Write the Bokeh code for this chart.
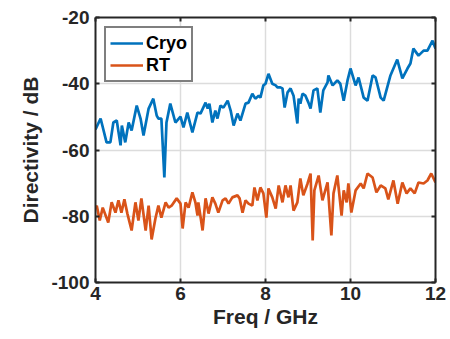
from bokeh.plotting import figure
from bokeh.models import Range1d, LinearAxis, FixedTicker, Legend, LegendItem
from bokeh.embed import file_html
from bokeh.resources import INLINE

cryo_f = [4.0, 4.12, 4.26, 4.35, 4.42, 4.5, 4.59, 4.62, 4.7, 4.78, 4.85, 4.97, 5.06, 5.13, 5.25, 5.36,
          5.44, 5.48, 5.55, 5.62, 5.67, 5.76, 5.88, 6.0, 6.07, 6.16, 6.28, 6.4, 6.47, 6.59, 6.64,
          6.68, 6.75, 6.82, 6.87, 6.94, 7.01, 7.11, 7.18, 7.25, 7.34, 7.41, 7.53, 7.6, 7.69, 7.76,
          7.84, 7.88, 7.95, 8.0, 8.07, 8.16, 8.24, 8.28, 8.35, 8.4, 8.45, 8.52, 8.59, 8.66, 8.75,
          8.78, 8.82, 8.87, 8.94, 9.01, 9.06, 9.13, 9.22, 9.29, 9.36, 9.46, 9.48, 9.58, 9.69, 9.76,
          9.84, 9.93, 10.0, 10.12, 10.19, 10.31, 10.4, 10.52, 10.59, 10.71, 10.78, 10.94, 11.1,
          11.22, 11.34, 11.41, 11.48, 11.6, 11.72, 11.81, 11.93, 12.0]
cryo_db = [-53.8, -50.5, -57.7, -57.7, -51.7, -51.1, -58.6, -52.6, -57.7, -51.7, -54.1, -46.6, -50.5,
           -55.6, -47.5, -44.5, -49.6, -50.5, -50.5, -68.3, -51.7, -46.0, -51.7, -49.9, -53.2, -48.7,
           -54.7, -48.7, -49.0, -45.7, -47.5, -46.0, -51.7, -48.1, -50.5, -46.6, -47.2, -45.1, -48.1,
           -52.6, -49.0, -51.1, -46.0, -45.7, -43.0, -44.5, -43.6, -44.2, -40.5, -40.0, -37.0, -40.0,
           -40.5, -41.1, -41.1, -41.4, -47.2, -42.6, -41.4, -43.6, -52.0, -44.5, -46.0, -43.0, -43.6,
           -45.7, -47.5, -42.0, -41.4, -48.7, -42.0, -39.6, -37.5, -40.5, -39.0, -40.0, -45.1, -39.0,
           -35.4, -40.5, -38.1, -44.2, -45.1, -37.5, -38.1, -44.2, -45.1, -37.5, -32.7, -38.4, -35.4,
           -33.9, -29.4, -31.5, -30.0, -30.0, -27.0, -29.4]

rt_f = [4.0, 4.03, 4.1, 4.17, 4.3, 4.38, 4.47, 4.54, 4.61, 4.68, 4.75, 4.85, 4.94, 5.01, 5.08, 5.18,
        5.25, 5.32, 5.41, 5.48, 5.55, 5.65, 5.72, 5.79, 5.91, 6.0, 6.05, 6.12, 6.19, 6.28, 6.35, 6.4,
        6.42, 6.52, 6.59, 6.66, 6.75, 6.82, 6.89, 6.99, 7.06, 7.13, 7.22, 7.34, 7.39, 7.46, 7.53,
        7.6, 7.69, 7.74, 7.81, 7.88, 7.95, 8.02, 8.07, 8.16, 8.24, 8.31, 8.4, 8.47, 8.54, 8.59, 8.66,
        8.75, 8.82, 8.89, 8.99, 9.06, 9.11, 9.15, 9.25, 9.34, 9.46, 9.55, 9.6, 9.69, 9.79, 9.84,
        9.91, 9.95, 10.02, 10.12, 10.24, 10.31, 10.4, 10.52, 10.61, 10.71, 10.82, 10.89, 11.01,
        11.11, 11.22, 11.32, 11.41, 11.51, 11.6, 11.72, 11.81, 11.9, 12.0]
rt_db = [-77.4, -76.8, -81.3, -77.4, -81.9, -75.8, -78.9, -75.2, -78.9, -74.9, -79.2, -84.3, -75.8,
         -81.3, -74.6, -84.3, -76.8, -87.0, -80.7, -76.8, -80.4, -75.8, -77.4, -76.8, -74.6, -76.2,
         -83.7, -75.8, -77.4, -72.8, -75.8, -79.8, -75.8, -84.3, -74.6, -79.2, -74.3, -76.2, -78.9,
         -75.2, -74.6, -76.2, -74.3, -73.7, -74.6, -78.9, -75.2, -76.2, -76.8, -71.3, -75.2, -71.3,
         -73.1, -80.4, -71.6, -74.3, -77.7, -70.7, -75.8, -70.7, -74.3, -70.7, -78.3, -75.8, -68.6,
         -73.7, -70.1, -67.1, -87.3, -72.2, -67.7, -75.2, -69.8, -85.8, -73.1, -67.7, -79.8, -72.2,
         -75.8, -70.1, -78.9, -72.2, -70.1, -71.6, -67.1, -68.3, -72.8, -70.7, -71.6, -74.9, -69.2,
         -76.2, -69.8, -73.1, -71.6, -73.1, -69.8, -70.1, -69.2, -67.1, -69.8]

x_ticks = [4, 6, 8, 10, 12]
y_ticks = [-100, -80, -60, -40, -20]
series_names = ["Cryo", "RT"]

FONT = "Liberation Sans"
AX = "#262626"

p = figure(frame_width=340, frame_height=265, output_backend="svg", toolbar_location=None,
           x_range=Range1d(4, 12), y_range=Range1d(-100, -20),
           min_border_left=95, min_border_right=15, min_border_top=17, min_border_bottom=57,
           background_fill_color="white", border_fill_color="white")
p.outline_line_color = None

r1 = p.line(cryo_f, cryo_db, line_color="#0072BD", line_width=2.7)
r2 = p.line(rt_f, rt_db, line_color="#D95319", line_width=2.7)

def base_axis(ax):
    ax.axis_line_color = AX
    ax.axis_line_width = 2

def style_main(ax, ticks):
    base_axis(ax)
    ax.ticker = FixedTicker(ticks=ticks)
    ax.major_tick_line_color = AX
    ax.major_tick_line_width = 2
    ax.major_tick_in = 4
    ax.major_tick_out = 0
    ax.minor_tick_line_color = None
    ax.major_label_overrides = {t: str(t) for t in ticks}
    ax.major_label_text_font = FONT
    ax.major_label_text_font_style = "bold"
    ax.major_label_text_font_size = "19px"
    ax.major_label_text_color = AX
    ax.axis_label_text_font = FONT
    ax.axis_label_text_font_style = "bold"
    ax.axis_label_text_font_size = "21px"
    ax.axis_label_text_color = AX

def style_mirror(ax, ticks):
    base_axis(ax)
    ax.ticker = FixedTicker(ticks=[], minor_ticks=ticks)
    ax.major_tick_line_color = None
    ax.minor_tick_line_color = AX
    ax.minor_tick_line_width = 2
    ax.minor_tick_in = 4
    ax.minor_tick_out = 0

xa = p.xaxis[0]
ya = p.yaxis[0]
style_main(xa, x_ticks)
style_main(ya, y_ticks)
xa.axis_label = "Freq / GHz"
ya.axis_label = "Directivity / dB"
xa.major_label_standoff = 4
ya.major_label_standoff = 6
xa.axis_label_standoff = 2
ya.axis_label_standoff = 6

top = LinearAxis()
right = LinearAxis()
style_mirror(top, x_ticks)
style_mirror(right, y_ticks)
p.add_layout(top, "above")
p.add_layout(right, "right")

for g in (p.xgrid[0], p.ygrid[0]):
    g.grid_line_color = "#dcdcdc"
    g.grid_line_width = 1.5
p.xgrid[0].ticker = FixedTicker(ticks=x_ticks)
p.ygrid[0].ticker = FixedTicker(ticks=y_ticks)

legend = Legend(items=[LegendItem(label=series_names[0], renderers=[r1]),
                       LegendItem(label=series_names[1], renderers=[r2])],
                location="top_left")
legend.margin = 9
legend.padding = 4
legend.spacing = 0
legend.glyph_width = 33
legend.glyph_height = 22
legend.label_height = 22
legend.label_standoff = 3
legend.label_text_font = FONT
legend.label_text_font_style = "bold"
legend.label_text_font_size = "18px"
legend.label_text_color = "black"
legend.border_line_color = "black"
legend.border_line_width = 2
legend.background_fill_color = "white"
legend.background_fill_alpha = 1
p.add_layout(legend)

open("out.html", "w").write(file_html(p, INLINE))
